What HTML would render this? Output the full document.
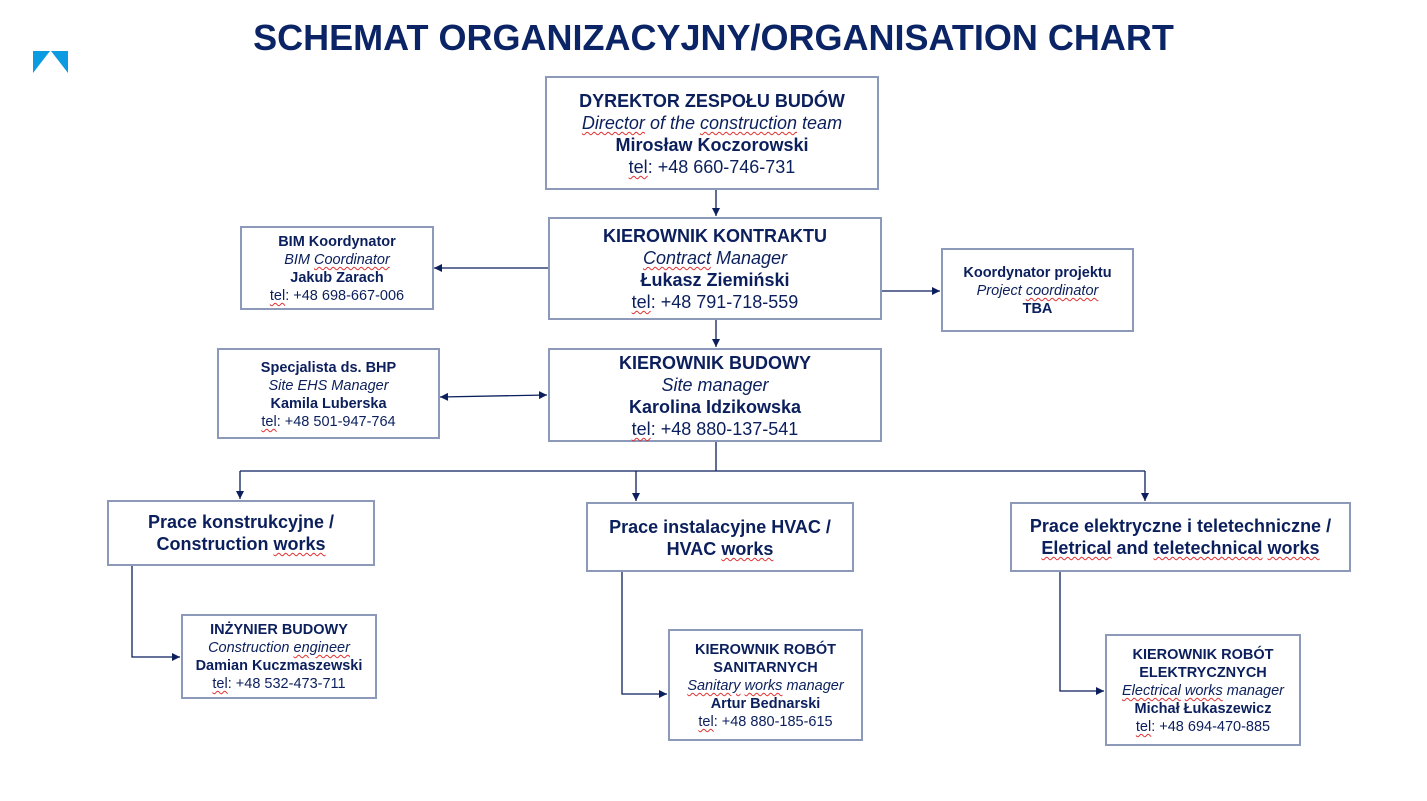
<!DOCTYPE html>
<html><head><meta charset="utf-8"><style>
body{margin:0;width:1427px;height:801px;background:#fff;position:relative;overflow:hidden;font-family:"Liberation Sans",Arial,sans-serif;color:#0b1f5c}
.b{position:absolute;box-sizing:border-box;border:2px solid #8c99b8;background:#fff;text-align:center;white-space:nowrap}
.L{font-size:18px;line-height:22px}
.S{font-size:14.5px;line-height:18px}
.M{font-size:18px;line-height:22px;font-weight:bold}
b{font-weight:bold}
.u{text-decoration:underline wavy #e03030;text-decoration-thickness:1px;text-underline-offset:2px}
h1{position:absolute;left:0;width:1427px;top:17px;margin:0;text-align:center;font-size:36px;font-weight:bold;color:#0b2466}
svg{position:absolute;left:0;top:0}
</style></head><body>
<h1>SCHEMAT ORGANIZACYJNY/ORGANISATION CHART</h1>
<svg width="1427" height="801">
<defs><marker id="a" markerWidth="10" markerHeight="10" refX="8" refY="4" orient="auto" markerUnits="userSpaceOnUse"><path d="M0,0 L8,4 L0,8 z" fill="#0b1f5c"/></marker>
<marker id="s" markerWidth="10" markerHeight="10" refX="0" refY="4" orient="auto" markerUnits="userSpaceOnUse"><path d="M8,0 L0,4 L8,8 z" fill="#0b1f5c"/></marker></defs>
<polygon points="33,51 50,51 33,73" fill="#0a9be0"/><polygon points="51,51 68,51 68,73" fill="#0a9be0"/>
<g stroke="#0b1f5c" stroke-width="1.3" fill="none">
<line x1="716" y1="189" x2="716" y2="216" marker-end="url(#a)"/>
<line x1="716" y1="319" x2="716" y2="347" marker-end="url(#a)"/>
<line x1="548" y1="268" x2="434" y2="268" marker-end="url(#a)"/>
<line x1="881" y1="291" x2="940" y2="291" marker-end="url(#a)"/>
<line x1="440" y1="397" x2="547" y2="395" marker-start="url(#s)" marker-end="url(#a)"/>
<line x1="716" y1="441" x2="716" y2="471"/>
<line x1="240" y1="471" x2="1145" y2="471"/>
<line x1="240" y1="471" x2="240" y2="499" marker-end="url(#a)"/>
<line x1="636" y1="471" x2="636" y2="501" marker-end="url(#a)"/>
<line x1="1145" y1="471" x2="1145" y2="501" marker-end="url(#a)"/>
<polyline points="132,565 132,657 180,657" marker-end="url(#a)"/>
<polyline points="622,571 622,694 667,694" marker-end="url(#a)"/>
<polyline points="1060,571 1060,691 1104,691" marker-end="url(#a)"/>
</g></svg>
<div class="b L" style="left:545px;top:76px;width:334px;height:114px;padding-top:12px"><b>DYREKTOR ZESPOŁU BUDÓW</b><br><i><span class="u">Director</span> of the <span class="u">construction</span> team</i><br><b>Mirosław Koczorowski</b><br><span class="u">tel</span>: +48 660-746-731</div>
<div class="b L" style="left:548px;top:217px;width:334px;height:103px;padding-top:6px"><b>KIEROWNIK KONTRAKTU</b><br><i><span class="u">Contract</span> Manager</i><br><b>Łukasz Ziemiński</b><br><span class="u">tel</span>: +48 791-718-559</div>
<div class="b S" style="left:240px;top:226px;width:194px;height:84px;padding-top:5px"><b>BIM Koordynator</b><br><i>BIM <span class="u">Coordinator</span></i><br><b>Jakub Zarach</b><br><span class="u">tel</span>: +48 698-667-006</div>
<div class="b S" style="left:941px;top:248px;width:193px;height:84px;padding-top:14px"><b>Koordynator projektu</b><br><i>Project <span class="u">coordinator</span></i><br><b>TBA</b></div>
<div class="b S" style="left:217px;top:348px;width:223px;height:91px;padding-top:9px"><b>Specjalista ds. BHP</b><br><i>Site EHS Manager</i><br><b>Kamila Luberska</b><br><span class="u">tel</span>: +48 501-947-764</div>
<div class="b L" style="left:548px;top:348px;width:334px;height:94px;padding-top:2px"><b>KIEROWNIK BUDOWY</b><br><i>Site manager</i><br><b>Karolina Idzikowska</b><br><span class="u">tel</span>: +48 880-137-541</div>
<div class="b M" style="left:107px;top:500px;width:268px;height:66px;padding-top:9px">Prace konstrukcyjne /<br>Construction <span class="u">works</span></div>
<div class="b M" style="left:586px;top:502px;width:268px;height:70px;padding-top:12px">Prace instalacyjne HVAC /<br>HVAC <span class="u">works</span></div>
<div class="b M" style="left:1010px;top:502px;width:341px;height:70px;padding-top:11px">Prace elektryczne i teletechniczne /<br><span class="u">Eletrical</span> and <span class="u">teletechnical</span> <span class="u">works</span></div>
<div class="b S" style="left:181px;top:614px;width:196px;height:85px;padding-top:5px"><b>INŻYNIER BUDOWY</b><br><i>Construction <span class="u">engineer</span></i><br><b>Damian Kuczmaszewski</b><br><span class="u">tel</span>: +48 532-473-711</div>
<div class="b S" style="left:668px;top:629px;width:195px;height:112px;padding-top:10px"><b>KIEROWNIK ROBÓT<br>SANITARNYCH</b><br><i><span class="u">Sanitary</span> <span class="u">works</span> manager</i><br><b>Artur Bednarski</b><br><span class="u">tel</span>: +48 880-185-615</div>
<div class="b S" style="left:1105px;top:634px;width:196px;height:112px;padding-top:10px"><b>KIEROWNIK ROBÓT<br>ELEKTRYCZNYCH</b><br><i><span class="u">Electrical</span> <span class="u">works</span> manager</i><br><b>Michał Łukaszewicz</b><br><span class="u">tel</span>: +48 694-470-885</div>
</body></html>
